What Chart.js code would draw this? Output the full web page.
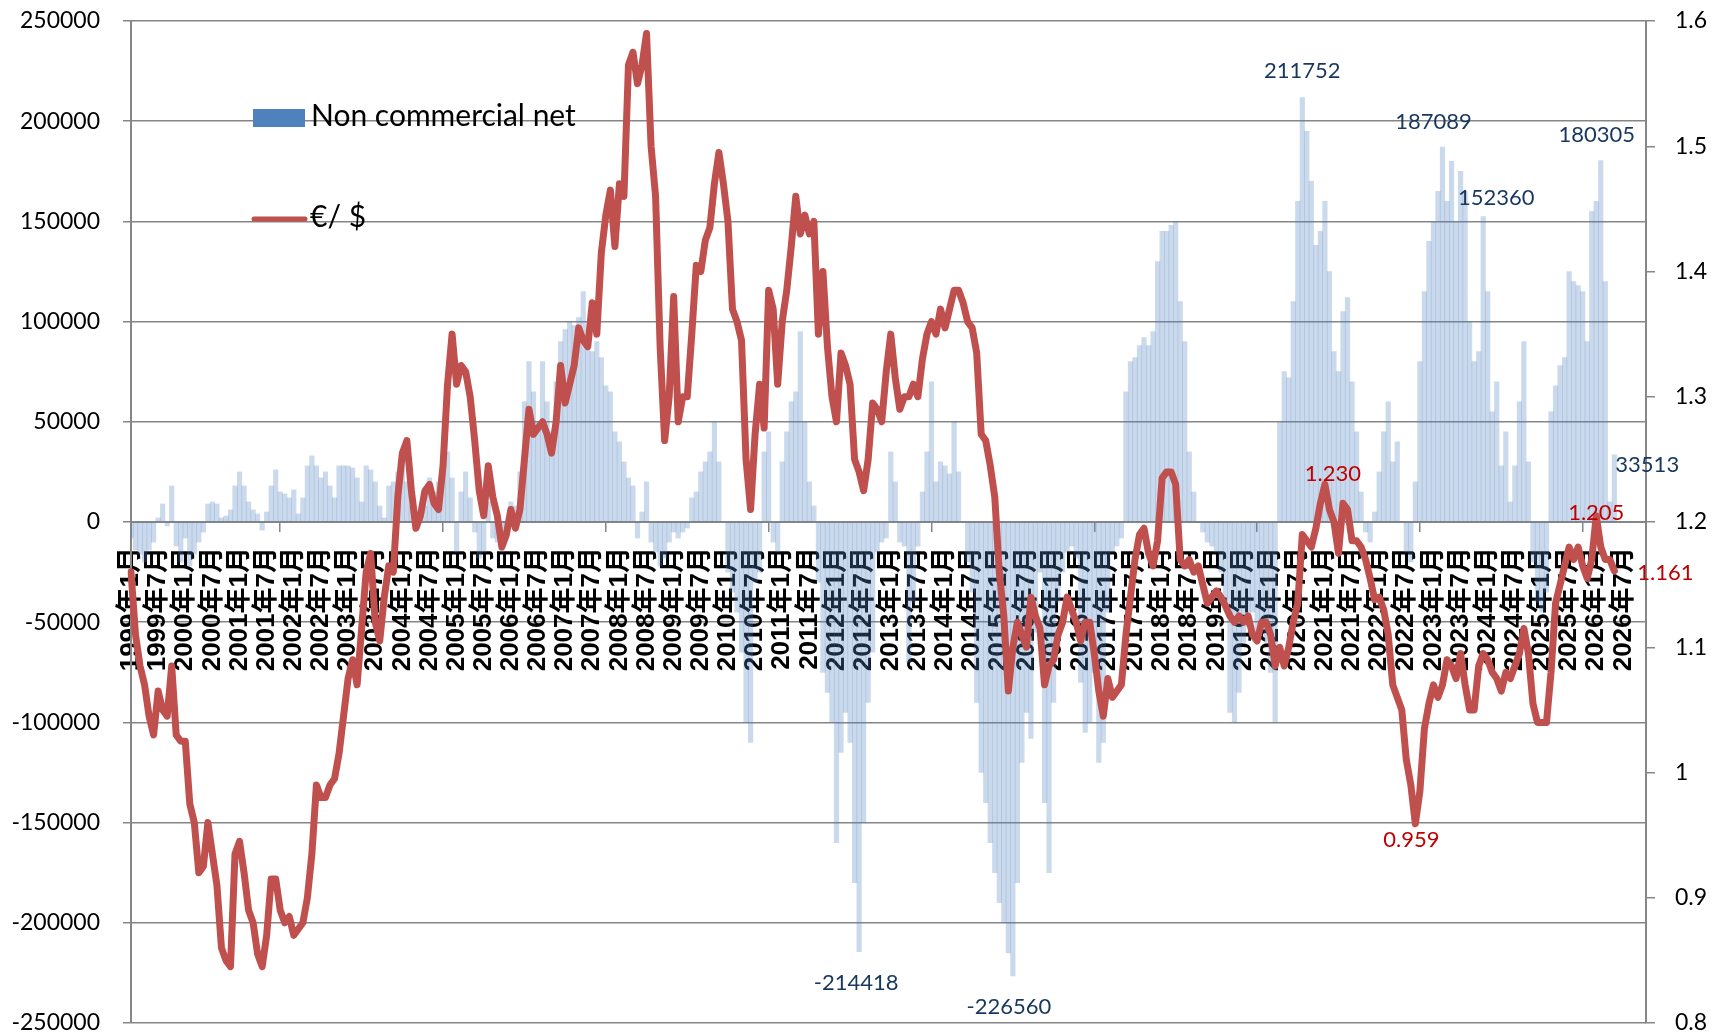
<!DOCTYPE html>
<html>
<head>
<meta charset="utf-8">
<title>Non commercial net vs EUR/USD</title>
<script src="https://cdn.jsdelivr.net/npm/chart.js@4.4.1/dist/chart.umd.min.js"></script>
<style>
  html, body { margin: 0; padding: 0; background: #fff; }
  #wrap { width: 1714px; height: 1032px; }
</style>
</head>
<body>
<div id="wrap"><canvas id="cotChart" width="1714" height="1032"></canvas></div>
<script>
// monthly points, 1999年1月 .. 2026年5月; the axis itself runs on to 2026年12月
const firstYear = 1999;
const axisMonths = 336;

// CFTC non commercial net position (contracts)
const netPositions = [
  -8000, -14000, -16000, -20000, -14000, -10000, 2000, 9000, -2000, 18000, -12000, -20000,          // 1999
  -8000, -22000, -16000, -10000, -5000, 9000, 10000, 9000, 2000, 3000, 6000, 18000,                 // 2000
  25000, 18000, 10000, 6000, 4000, -4000, 5000, 18000, 26000, 15000, 14000, 12000,                  // 2001
  16000, 4000, 12000, 28000, 33000, 28000, 22000, 25000, 18000, 12000, 28000, 28000,                // 2002
  28000, 27000, 22000, 10000, 28000, 26000, 20000, 8000, 2000, 18000, 20000, 25000,                 // 2003
  30000, 20000, 8000, 3000, 5000, 8000, 22000, 15000, 20000, 28000, 35000, 22000,                   // 2004
  -15000, 15000, 25000, 12000, -5000, -18000, -15000, 10000, -8000, -10000, -15000, -8000,          // 2005
  10000, 8000, 25000, 60000, 80000, 65000, 50000, 80000, 60000, 45000, 70000, 90000,                // 2006
  96000, 100000, 98000, 102000, 115000, 88000, 85000, 90000, 82000, 68000, 65000, 45000,           // 2007
  40000, 30000, 22000, 18000, -8000, 5000, 20000, -10000, -15000, -22000, -18000, -10000,          // 2008
  -5000, -8000, -5000, -3000, 12000, 15000, 25000, 30000, 35000, 50000, 30000, 0,                   // 2009
  -25000, -35000, -45000, -65000, -100000, -110000, -30000, -25000, 35000, 45000, -10000, -15000,  // 2010
  30000, 45000, 60000, 65000, 95000, 50000, 20000, 8000, -30000, -75000, -85000, -100000,          // 2011
  -160000, -115000, -95000, -110000, -180000, -214418, -150000, -90000, -65000, -15000, -10000, -8000, // 2012
  35000, 20000, -10000, -12000, -70000, -40000, -12000, 15000, 35000, 70000, 20000, 30000,         // 2013
  28000, 24000, 50000, 25000, 0, -20000, -35000, -90000, -125000, -140000, -160000, -175000,       // 2014
  -190000, -200000, -215000, -226560, -180000, -120000, -95000, -108000, -55000, -25000, -140000, -175000, // 2015
  -90000, -40000, -25000, -15000, -12000, -18000, -80000, -105000, -100000, -75000, -120000, -110000, // 2016
  -45000, -15000, -12000, -8000, 65000, 80000, 82000, 88000, 92000, 88000, 95000, 130000,          // 2017
  145000, 145000, 148000, 150000, 110000, 90000, 35000, 15000, 0, -5000, -10000, -12000,           // 2018
  -15000, -25000, -40000, -95000, -100000, -85000, -60000, -45000, -45000, -55000, -50000, -60000, // 2019
  -75000, -100000, 50000, 75000, 72000, 110000, 160000, 211752, 195000, 170000, 138000, 145000,    // 2020
  160000, 125000, 85000, 75000, 105000, 112000, 70000, 45000, 15000, -5000, -10000, 5000,          // 2021
  25000, 45000, 60000, 30000, 40000, 0, -15000, -20000, 20000, 80000, 115000, 140000,              // 2022
  150000, 165000, 187089, 160000, 180000, 150000, 175000, 165000, 100000, 80000, 85000, 152360,    // 2023
  115000, 55000, 70000, 28000, 45000, 10000, 28000, 60000, 90000, 30000, -20000, -40000,           // 2024
  -45000, -35000, 55000, 68000, 78000, 82000, 125000, 120000, 118000, 115000, 90000, 155000,       // 2025
  160000, 180305, 120000, 10000, 33513                                                             // 2026
];

// EUR/USD
const eurUsd = [
  1.16, 1.11, 1.085, 1.07, 1.045, 1.03, 1.065, 1.05, 1.045, 1.085, 1.03, 1.025,      // 1999
  1.025, 0.975, 0.96, 0.92, 0.925, 0.96, 0.935, 0.91, 0.86, 0.85, 0.845, 0.935,      // 2000
  0.945, 0.92, 0.89, 0.88, 0.855, 0.845, 0.87, 0.915, 0.915, 0.89, 0.88, 0.885,      // 2001
  0.87, 0.875, 0.88, 0.9, 0.935, 0.99, 0.98, 0.98, 0.99, 0.995, 1.015, 1.045,        // 2002
  1.075, 1.09, 1.07, 1.115, 1.16, 1.175, 1.12, 1.105, 1.14, 1.165, 1.16, 1.22,       // 2003
  1.255, 1.265, 1.225, 1.195, 1.205, 1.225, 1.23, 1.215, 1.21, 1.245, 1.31, 1.35,    // 2004
  1.31, 1.325, 1.32, 1.3, 1.265, 1.225, 1.205, 1.245, 1.22, 1.205, 1.18, 1.19,       // 2005
  1.21, 1.195, 1.21, 1.25, 1.29, 1.27, 1.275, 1.28, 1.27, 1.255, 1.28, 1.325,        // 2006
  1.295, 1.31, 1.325, 1.355, 1.345, 1.34, 1.375, 1.35, 1.415, 1.445, 1.465, 1.42,    // 2007
  1.47, 1.46, 1.565, 1.575, 1.55, 1.565, 1.59, 1.5, 1.46, 1.34, 1.265, 1.3,          // 2008
  1.38, 1.28, 1.3, 1.3, 1.35, 1.405, 1.4, 1.425, 1.435, 1.47, 1.495, 1.47,           // 2009
  1.44, 1.37, 1.36, 1.345, 1.25, 1.21, 1.27, 1.31, 1.275, 1.385, 1.37, 1.31,         // 2010
  1.36, 1.385, 1.42, 1.46, 1.43, 1.445, 1.43, 1.44, 1.35, 1.4, 1.34, 1.3,            // 2011
  1.28, 1.335, 1.325, 1.31, 1.25, 1.24, 1.225, 1.25, 1.295, 1.29, 1.28, 1.32,        // 2012
  1.35, 1.315, 1.29, 1.3, 1.3, 1.31, 1.3, 1.33, 1.35, 1.36, 1.35, 1.37,              // 2013
  1.355, 1.37, 1.385, 1.385, 1.375, 1.36, 1.355, 1.335, 1.27, 1.265, 1.245, 1.22,    // 2014
  1.16, 1.125, 1.065, 1.1, 1.12, 1.11, 1.1, 1.14, 1.125, 1.115, 1.07, 1.085,         // 2015
  1.09, 1.11, 1.12, 1.14, 1.13, 1.12, 1.105, 1.12, 1.12, 1.095, 1.065, 1.045,        // 2016
  1.075, 1.06, 1.065, 1.07, 1.11, 1.14, 1.17, 1.19, 1.195, 1.175, 1.165, 1.185,      // 2017
  1.235, 1.24, 1.24, 1.23, 1.17, 1.165, 1.17, 1.16, 1.165, 1.15, 1.135, 1.14,        // 2018
  1.145, 1.14, 1.133, 1.125, 1.12, 1.125, 1.12, 1.125, 1.11, 1.105, 1.12, 1.12,      // 2019
  1.11, 1.085, 1.1, 1.085, 1.1, 1.12, 1.135, 1.19, 1.185, 1.18, 1.195, 1.215,        // 2020
  1.23, 1.21, 1.2, 1.175, 1.215, 1.21, 1.185, 1.185, 1.18, 1.17, 1.155, 1.138,       // 2021
  1.14, 1.13, 1.11, 1.07, 1.06, 1.05, 1.01, 0.99, 0.959, 0.985, 1.035, 1.055,        // 2022
  1.07, 1.06, 1.07, 1.09, 1.085, 1.075, 1.095, 1.07, 1.05, 1.05, 1.085, 1.095,       // 2023
  1.09, 1.08, 1.075, 1.065, 1.08, 1.075, 1.085, 1.095, 1.115, 1.095, 1.055, 1.04,    // 2024
  1.04, 1.04, 1.08, 1.135, 1.15, 1.165, 1.18, 1.17, 1.18, 1.165, 1.155, 1.17,        // 2025
  1.205, 1.18, 1.17, 1.17, 1.161                                                     // 2026
];

const categories = [];
for (let i = 0; i < axisMonths; i++) {
  categories.push(`${firstYear + Math.floor(i / 12)}年${(i % 12) + 1}月`);
}

// which points get a value label, and where the label sits relative to the point
const barNotes = [
  { index: 259, dx: 0, dy: -27 },
  { index: 290, dx: -9, dy: -25 },
  { index: 299, dx: 13, dy: -19 },
  { index: 325, dx: -4, dy: -26 },
  { index: 328, dx: 1, dy: 10, align: 'left' },
  { index: 161, dx: -3, dy: 31 },
  { index: 195, dx: -4, dy: 31 }
];
const rateNotes = [
  { index: 264, dx: 8, dy: -11 },
  { index: 284, dx: -4, dy: 16 },
  { index: 324, dx: 0, dy: -3 },
  { index: 328, dx: 23, dy: 2, align: 'left' }
];

const GRID = '#868686';
const AXIS_FONT = { family: 'Lato, "Noto Sans", sans-serif', size: 23 };

const valueLabels = {
  id: 'valueLabels',
  afterDatasetsDraw(chart) {
    const ctx = chart.ctx;
    ctx.save();
    ctx.font = '22px Lato, "Noto Sans", sans-serif';
    ctx.textBaseline = 'middle';
    const draw = (dsIndex, notes, color, fmt) => {
      const meta = chart.getDatasetMeta(dsIndex);
      const values = chart.data.datasets[dsIndex].data;
      ctx.fillStyle = color;
      notes.forEach(n => {
        const el = meta.data[n.index];
        if (!el) return;
        ctx.textAlign = n.align || 'center';
        ctx.fillText(fmt(values[n.index]), el.x + n.dx, el.y + n.dy);
      });
    };
    draw(0, barNotes, '#17375E', v => String(v));
    draw(1, rateNotes, '#C00000', v => v.toFixed(3));
    ctx.restore();
  }
};

const insideLegend = {
  id: 'insideLegend',
  afterDraw(chart) {
    const ctx = chart.ctx;
    const a = chart.chartArea;
    const [bars, line] = chart.data.datasets;
    ctx.save();
    ctx.font = '30px Lato, "Noto Sans", sans-serif';
    ctx.textBaseline = 'alphabetic';
    ctx.textAlign = 'left';

    ctx.fillStyle = '#4F81BD';
    ctx.fillRect(a.left + 122, a.top + 88, 52, 18);
    ctx.fillStyle = '#000';
    ctx.fillText(bars.label, a.left + 180, a.top + 105);

    ctx.strokeStyle = line.borderColor;
    ctx.lineWidth = 5;
    ctx.lineCap = 'round';
    ctx.beginPath();
    ctx.moveTo(a.left + 123, a.top + 198);
    ctx.lineTo(a.left + 174, a.top + 198);
    ctx.stroke();
    ctx.fillText(line.label, a.left + 179, a.top + 206);
    ctx.restore();
  }
};

new Chart(document.getElementById('cotChart'), {
  data: {
    labels: categories,
    datasets: [
      {
        type: 'bar',
        label: 'Non commercial net',
        data: netPositions,
        yAxisID: 'y',
        backgroundColor: 'rgba(79, 129, 189, 0.3)',
        borderWidth: 0,
        barPercentage: 1,
        categoryPercentage: 1,
        order: 2
      },
      {
        type: 'line',
        label: '€/ $',
        data: eurUsd,
        yAxisID: 'y1',
        borderColor: '#C0504D',
        borderWidth: 7,
        pointRadius: 0,
        tension: 0,
        borderJoinStyle: 'round',
        borderCapStyle: 'round',
        order: 1
      }
    ]
  },
  options: {
    responsive: false,
    devicePixelRatio: 1,
    animation: false,
    layout: { padding: { top: 21, bottom: 9, left: 0, right: 0 } },
    plugins: {
      legend: { display: false },
      tooltip: { enabled: false }
    },
    scales: {
      x: {
        type: 'category',
        position: { y: 0 },
        offset: false,
        z: 1,
        afterFit: s => { s.height = 0; },
        grid: {
          drawOnChartArea: false,
          drawTicks: true,
          tickLength: 9,
          lineWidth: 1.5,
          color: c => (c.index % 6 === 0 ? GRID : 'rgba(0,0,0,0)')
        },
        border: { display: true, color: GRID, width: 2 },
        ticks: {
          autoSkip: false,
          minRotation: 90,
          maxRotation: 90,
          padding: 16,
          color: '#000',
          font: { family: '"Liberation Sans", "Noto Sans CJK JP", sans-serif', size: 26, weight: 'bold' },
          callback: function (val, i) { return i % 6 === 0 ? this.getLabelForValue(val) : null; }
        }
      },
      y: {
        position: 'left',
        min: -250000,
        max: 250000,
        afterFit: s => { s.width = 131; s.paddingTop = 0; s.paddingBottom = 0; },
        grid: { color: GRID, lineWidth: 1.5, tickLength: 8 },
        border: { display: true, color: GRID, width: 2 },
        ticks: {
          stepSize: 50000,
          padding: 23,
          color: '#000',
          font: AXIS_FONT,
          callback: v => String(v)
        }
      },
      y1: {
        position: 'right',
        min: 0.8,
        max: 1.6,
        afterFit: s => { s.width = 68; s.paddingTop = 0; s.paddingBottom = 0; },
        grid: { drawOnChartArea: false, color: GRID, lineWidth: 1.5, tickLength: 9 },
        border: { display: true, color: GRID, width: 2 },
        ticks: {
          stepSize: 0.1,
          padding: 20,
          color: '#000',
          font: AXIS_FONT,
          callback: v => String(Math.round(v * 10) / 10)
        }
      }
    }
  },
  plugins: [valueLabels, insideLegend]
});
</script>
</body>
</html>
